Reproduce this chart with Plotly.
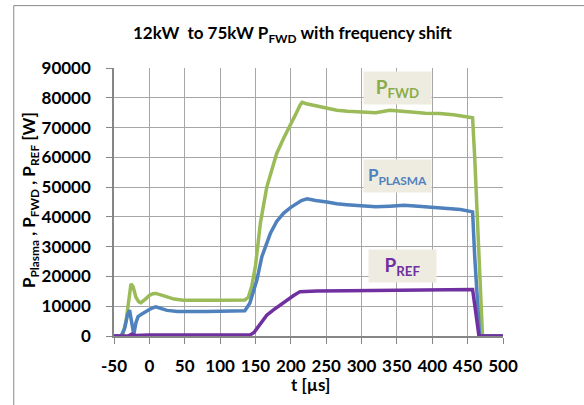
import plotly.graph_objects as go

# ---- data ----
t_fwd = [-50, -38, -33, -29, -26, -23, -19, -15, -12, -6, 0, 5, 9, 15, 25, 35, 48, 60, 80, 100,
         120, 135, 140, 145, 150, 157, 166, 180, 190, 199, 207, 213, 216, 222, 230, 237, 250,
         265, 280, 300, 320, 340, 355, 370, 390, 410, 430, 445, 457, 460, 465, 471, 500]
p_fwd = [0, 0, 5000, 13000, 17500, 16500, 13000, 11500, 11200, 12300, 13600, 14200, 14300, 13900,
         13000, 12400, 12000, 11900, 12000, 12000, 12100, 12100, 13000, 17000, 23500, 38000, 50000,
         61300, 66500, 70500, 74500, 77500, 78500, 78000, 77600, 77400, 76800, 75800, 75500, 75200,
         75000, 75800, 75600, 75200, 74800, 74700, 74300, 73800, 73300, 60000, 30000, 0, 0]

t_plasma = [-50, -40, -35, -31, -28, -25, -22, -19, -16, -10, -3, 3, 9, 15, 25, 40, 60, 80, 100,
            120, 135, 142, 152, 159, 171, 180, 190, 200, 208, 215, 223, 235, 251, 265, 279, 300,
            320, 340, 360, 380, 400, 420, 440, 457, 460, 467, 500]
p_plasma = [0, 0, 2500, 7000, 8700, 5000, 500, 4500, 6500, 7500, 8500, 9300, 9800, 9300, 8600,
            8200, 8100, 8200, 8300, 8300, 8500, 11000, 18800, 26600, 34400, 38500, 41300, 43200,
            44600, 45500, 46100, 45500, 45000, 44400, 44100, 43800, 43400, 43600, 43900, 43600,
            43300, 42900, 42500, 41700, 26600, 0, 0]

t_ref = [-50, -30, -25, -20, 0, 50, 100, 142, 148, 157, 166, 175, 185, 194, 204, 213, 225, 237,
         280, 330, 380, 420, 457, 461, 466, 500]
p_ref = [0, 0, 600, 200, 300, 200, 300, 300, 1200, 4300, 7000, 8700, 10500, 12000, 13600, 14900,
         15100, 15100, 15200, 15300, 15400, 15600, 15600, 8700, 0, 0]

x_ticks = [-50, 0, 50, 100, 150, 200, 250, 300, 350, 400, 450, 500]
y_ticks = [0, 10000, 20000, 30000, 40000, 50000, 60000, 70000, 80000, 90000]
x_ticktext = [str(v) for v in x_ticks]
y_ticktext = [str(v) for v in y_ticks]

GREEN = "#9BBB59"
BLUE = "#4F81BD"
PURPLE = "#7030A0"
FONT = "Lato"

fig = go.Figure()
fig.add_trace(go.Scatter(x=t_fwd, y=p_fwd, mode="lines", line=dict(color=GREEN, width=3.5)))
fig.add_trace(go.Scatter(x=t_plasma, y=p_plasma, mode="lines", line=dict(color=BLUE, width=3.5)))
fig.add_trace(go.Scatter(x=t_ref, y=p_ref, mode="lines", line=dict(color=PURPLE, width=3.5)))

axis_common = dict(
    showgrid=True, gridcolor="#A6A6A6", gridwidth=1,
    showline=True, linecolor="#868686", linewidth=1.5,
    ticks="outside", tickcolor="#868686", ticklen=6,
    tickfont=dict(family=FONT, size=17, color="#000000", weight="bold"),
    zeroline=False,
)

fig.update_layout(
    width=584, height=405,
    margin=dict(l=113.5, r=80.5, t=67.5, b=69),
    paper_bgcolor="white", plot_bgcolor="white",
    showlegend=False,
    xaxis=dict(range=[-50, 500], tickvals=x_ticks, ticktext=x_ticktext, ticklabelstandoff=8,
               **axis_common),
    yaxis=dict(range=[0, 90000], tickvals=y_ticks, ticktext=y_ticktext, ticklabelstandoff=12,
               **axis_common),
    font=dict(family=FONT, color="#000000"),
)

annotations = [
    dict(text="12kW\u00a0 to 75kW P<sub>FWD</sub> with frequency shift",
         x=0.46, y=1.1285, font=dict(size=17, color="#000000")),
    dict(text="t [µs]", x=0.506, y=-0.1825, font=dict(size=17, color="#000000")),
    dict(text="P<sub>Plasma</sub> , P<sub>FWD</sub> , P<sub>REF</sub> [W]",
         x=-0.214, y=0.5065, textangle=-90, font=dict(size=17, color="#000000")),
    dict(text="P<sub>FWD</sub>", x=0.7295, y=0.9255, width=65, height=30,
         bgcolor="#EEECE1", font=dict(size=19, color="#8AAD48")),
    dict(text="P<sub>PLASMA</sub>", x=0.7295, y=0.596, width=65, height=30,
         bgcolor="#EEECE1", font=dict(size=17, color=BLUE)),
    dict(text="P<sub>REF</sub>", x=0.742, y=0.2607, width=65, height=30,
         bgcolor="#EEECE1", font=dict(size=19, color=PURPLE)),
]
for a in annotations:
    a.update(xref="paper", yref="paper", showarrow=False, xanchor="center", yanchor="middle")
    a["font"]["family"] = FONT
    a["font"]["weight"] = "bold"
    fig.add_annotation(**a)

# outer chart frame (left and top edges visible)
fig.add_shape(type="rect", xref="paper", yref="paper", x0=-0.2577, x1=1.6, y0=-0.6, y1=1.2328,
              line=dict(color="#888888", width=1), fillcolor="rgba(0,0,0,0)", layer="below")

fig.write_html("out.html")
